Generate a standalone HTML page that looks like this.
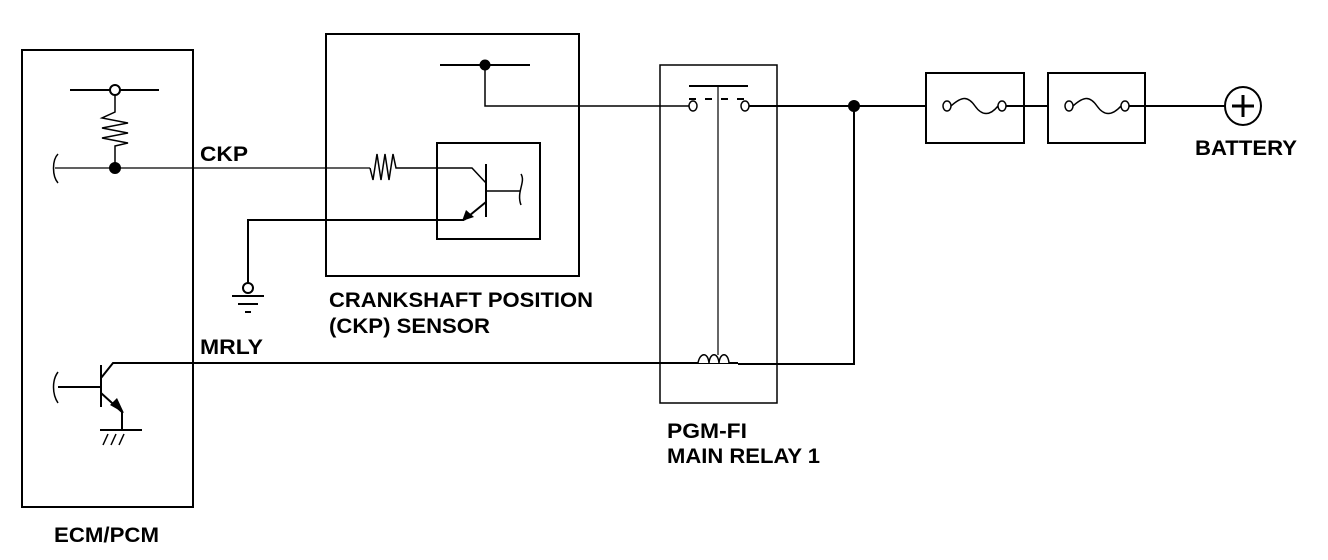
<!DOCTYPE html>
<html><head><meta charset="utf-8"><style>html,body{margin:0;padding:0;background:#fff}svg{display:block}text{font-family:"Liberation Sans",sans-serif;font-weight:bold;font-size:21px;fill:#000}</style></head>
<body>
<svg width="1328" height="560" viewBox="0 0 1328 560" xmlns="http://www.w3.org/2000/svg">
<g fill="none" stroke="#000" stroke-width="2">
<rect x="22" y="50" width="171" height="457"/>
<line x1="70" y1="90" x2="159" y2="90"/>
<circle cx="115" cy="90" r="5" fill="#fff"/>
<polyline stroke-width="1.5" points="115,95 115,112 102,118 128,123 102,128 128,133 102,138 128,143 115,146 115,168"/>
<line x1="55" y1="168" x2="115" y2="168" stroke-width="1.2"/>
<path d="M58,154 C52,160 52,176 58,183" stroke-width="1.5"/>
<circle cx="115" cy="168" r="5" fill="#000"/>
<line x1="115" y1="168" x2="370" y2="168" stroke-width="1.2"/>
<polyline stroke-width="1.5" points="370,168 373,180 377,154 381,180 385,154 389,180 393,154 396,168 403,168 472,168 486,183"/>
<rect x="326" y="34" width="253" height="242"/>
<line x1="440" y1="65" x2="530" y2="65"/>
<circle cx="485" cy="65" r="4.5" fill="#000"/>
<polyline points="485,65 485,106 690,106" stroke-width="1.5"/>
<rect x="437" y="143" width="103" height="96"/>
<line x1="486" y1="164" x2="486" y2="217"/>
<line x1="486" y1="191" x2="520" y2="191" stroke-width="1.5"/>
<path d="M521,174 C526,182 516,192 521,205" stroke-width="1.5"/>
<line x1="486" y1="202" x2="464" y2="220"/>
<polyline points="464,220 248,220 248,283"/>
<circle cx="248" cy="288" r="5" fill="#fff"/>
<line x1="232" y1="296" x2="264" y2="296"/>
<line x1="238" y1="304" x2="258" y2="304"/>
<line x1="245" y1="312" x2="251" y2="312"/>
<line x1="101" y1="365" x2="101" y2="407"/>
<line x1="58" y1="387" x2="101" y2="387"/>
<path d="M58,372 C52,380 52,394 58,403" stroke-width="1.5"/>
<polyline points="101,378 113,363 738,363"/>
<line x1="101" y1="393" x2="122" y2="412"/>
<polyline points="122,412 122,430"/>
<line x1="100" y1="430" x2="142" y2="430"/>
<line x1="108" y1="434" x2="103" y2="445" stroke-width="1.5"/>
<line x1="116" y1="434" x2="111" y2="445" stroke-width="1.5"/>
<line x1="124" y1="434" x2="119" y2="445" stroke-width="1.5"/>
<rect x="660" y="65" width="117" height="338" stroke-width="1.5"/>
<line x1="689" y1="86" x2="748" y2="86"/>
<line x1="718" y1="86" x2="718" y2="355" stroke-width="1.2"/>
<line x1="689" y1="99" x2="748" y2="99" stroke-dasharray="7,9"/>
<ellipse cx="693" cy="106" rx="4" ry="5" fill="#fff" stroke-width="1.5"/>
<ellipse cx="745" cy="106" rx="4" ry="5" fill="#fff" stroke-width="1.5"/>
<line x1="749" y1="106" x2="926" y2="106"/>
<circle cx="854" cy="106" r="5" fill="#000"/>
<polyline points="854,106 854,364 738,364"/>
<path d="M698,363 C700,352 708,352 709,363 C710,352 718,352 719,363 C720,352 728,352 729,363 L738,363" stroke-width="1.5" fill="#fff"/>
<rect x="926" y="73" width="98" height="70"/>
<rect x="1048" y="73" width="97" height="70"/>
<line x1="1024" y1="106" x2="1048" y2="106"/>
<line x1="1145" y1="106" x2="1225" y2="106"/>
<ellipse cx="947" cy="106" rx="4" ry="5" stroke-width="1.5"/>
<ellipse cx="1002" cy="106" rx="4" ry="5" stroke-width="1.5"/>
<path d="M951,106 C962,96 968,96 975,106 C982,116 990,116 998,106" stroke-width="1.5"/>
<line x1="1006" y1="106" x2="1024" y2="106"/>
<ellipse cx="1069" cy="106" rx="4" ry="5" stroke-width="1.5"/>
<ellipse cx="1125" cy="106" rx="4" ry="5" stroke-width="1.5"/>
<path d="M1073,106 C1084,96 1090,96 1097,106 C1104,116 1112,116 1121,106" stroke-width="1.5"/>
<line x1="1129" y1="106" x2="1145" y2="106"/>
<ellipse cx="1243" cy="106" rx="18" ry="19"/>
<line x1="1232" y1="106" x2="1254" y2="106" stroke-width="3"/>
<line x1="1243" y1="95" x2="1243" y2="117" stroke-width="3"/>
</g>
<polygon points="462,221 466,210 474,217" fill="#000"/>
<polygon points="124,413 110,405 117,398" fill="#000"/>
<text x="200" y="161" textLength="48" lengthAdjust="spacingAndGlyphs">CKP</text>
<text x="200" y="354" textLength="63" lengthAdjust="spacingAndGlyphs">MRLY</text>
<text x="329" y="307" textLength="264" lengthAdjust="spacingAndGlyphs">CRANKSHAFT POSITION</text>
<text x="329" y="333" textLength="161" lengthAdjust="spacingAndGlyphs">(CKP) SENSOR</text>
<text x="54" y="542" textLength="105" lengthAdjust="spacingAndGlyphs">ECM/PCM</text>
<text x="667" y="438" textLength="80" lengthAdjust="spacingAndGlyphs">PGM-FI</text>
<text x="667" y="463" textLength="153" lengthAdjust="spacingAndGlyphs">MAIN RELAY 1</text>
<text x="1195" y="155" textLength="102" lengthAdjust="spacingAndGlyphs">BATTERY</text>
</svg>
</body></html>
